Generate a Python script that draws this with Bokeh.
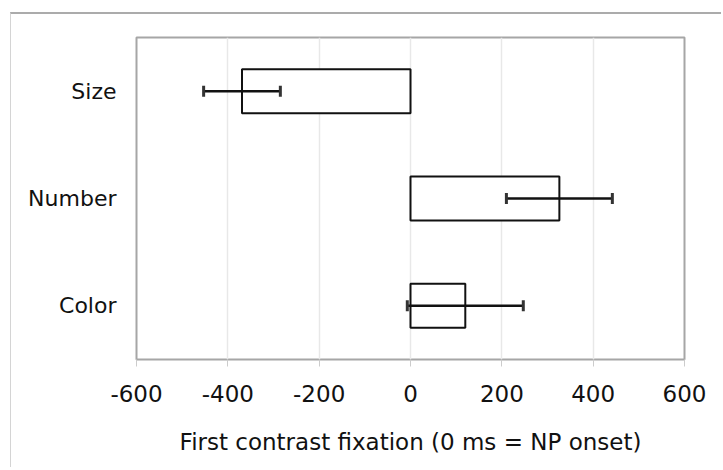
import math
from bokeh.plotting import figure
from bokeh.models import ColumnDataSource, FactorRange, Range1d, FixedTicker
from bokeh.embed import file_html
from bokeh.resources import INLINE

categories = ["Color", "Number", "Size"]
means = [120, 326, -369]
errors = [127, 116, 84]
x_ticks = [-600, -400, -200, 0, 200, 400, 600]
x_tick_labels = ["-600", "-400", "-200", "0", "200", "400", "600"]

lower = [m - e for m, e in zip(means, errors)]
upper = [m + e for m, e in zip(means, errors)]
src = ColumnDataSource(dict(cat=categories, mean=means, lo=lower, hi=upper))

FONT = "DejaVu Sans"
p = figure(width=711, height=455, output_backend="svg", toolbar_location=None,
           y_range=FactorRange(factors=categories, range_padding=0),
           x_range=Range1d(-600, 600),
           min_border_left=125, min_border_right=38, min_border_top=23, min_border_bottom=110)
p.styles = {"margin-left": "10px", "margin-top": "12px",
            "border-top": "2px solid #ababab", "border-left": "1px solid #d4d4d4"}

p.outline_line_color = "#a6a6a6"
p.outline_line_width = 2
p.background_fill_color = "white"
p.border_fill_color = "white"

p.hbar(y="cat", left=0, right="mean", height=0.41, source=src,
       fill_color="white", line_color="#111111", line_width=2)

p.segment(x0="lo", x1="hi", y0="cat", y1="cat", source=src,
          line_color="#111111", line_width=2.5)
p.scatter(x="lo", y="cat", source=src, marker="dash", angle=math.pi / 2, size=11,
          line_color="#333333", line_width=3)
p.scatter(x="hi", y="cat", source=src, marker="dash", angle=math.pi / 2, size=11,
          line_color="#333333", line_width=3)

p.xaxis.ticker = FixedTicker(ticks=x_ticks)
p.xaxis.major_label_overrides = {t: l for t, l in zip(x_ticks, x_tick_labels)}
p.xaxis.axis_line_color = None
p.xaxis.major_tick_line_color = "#cccccc"
p.xaxis.major_tick_out = 7
p.xaxis.major_tick_in = 0
p.xaxis.minor_tick_line_color = None
p.xaxis.major_label_standoff = 18
p.xaxis.major_label_text_font = FONT
p.xaxis.major_label_text_font_size = "23px"
p.xaxis.major_label_text_color = "#111111"
p.xaxis.axis_label = "First contrast fixation (0 ms = NP onset)"
p.xaxis.axis_label_text_font = FONT
p.xaxis.axis_label_text_font_size = "23px"
p.xaxis.axis_label_text_font_style = "normal"
p.xaxis.axis_label_text_color = "#111111"
p.xaxis.axis_label_standoff = 24

p.yaxis.axis_line_color = None
p.yaxis.major_tick_line_color = None
p.yaxis.minor_tick_line_color = None
p.yaxis.major_label_standoff = 14
p.yaxis.major_label_text_font = FONT
p.yaxis.major_label_text_font_size = "22px"
p.yaxis.major_label_text_color = "#111111"

p.xgrid.grid_line_color = "#e8e8e8"
p.xgrid.grid_line_width = 1.5
p.ygrid.grid_line_color = None

open("out.html", "w").write(file_html(p, INLINE))
